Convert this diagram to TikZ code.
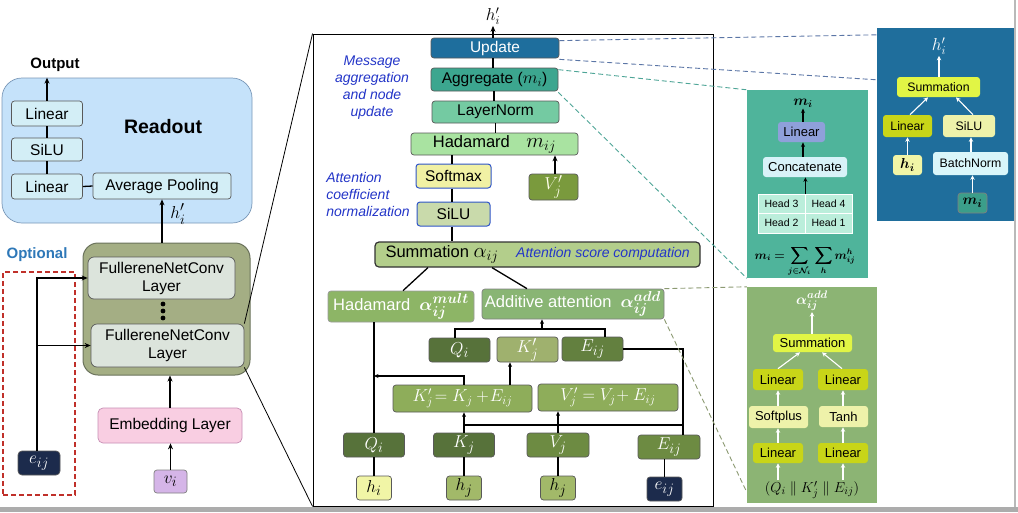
\documentclass[tikz,border=0pt]{standalone}
\usepackage{fontspec}
\setmainfont{Liberation Sans}
\usepackage{amsmath,bm}
\usetikzlibrary{calc,arrows.meta}
\newcommand{\Mx}[2][19]{{\fontsize{#1}{#1}\selectfont$#2$}}
\definecolor{roFill}{HTML}{C5E2FA}
\definecolor{roDraw}{HTML}{7A98B8}
\definecolor{roBox}{HTML}{D3EEF6}
\definecolor{gnnFill}{HTML}{A4AE84}
\definecolor{gnnDraw}{HTML}{6B735C}
\definecolor{fncFill}{HTML}{DCE4DC}
\definecolor{embFill}{HTML}{F9CEE2}
\definecolor{embDraw}{HTML}{C78FB5}
\definecolor{viFill}{HTML}{D5B5E8}
\definecolor{navy}{HTML}{1C2B4C}
\definecolor{optBlue}{HTML}{2E78B8}
\definecolor{optRed}{HTML}{C0302A}
\definecolor{updFill}{HTML}{1E6E9D}
\definecolor{aggFill}{HTML}{3CA68F}
\definecolor{lnFill}{HTML}{74CAA2}
\definecolor{hadFill}{HTML}{A9E3A1}
\definecolor{smFill}{HTML}{F1F1A4}
\definecolor{siluFill}{HTML}{C9DAAB}
\definecolor{bdBlue}{HTML}{2F55C8}
\definecolor{vjpFill}{HTML}{7A9A3D}
\definecolor{sumFill}{HTML}{B3CE8B}
\definecolor{multFill}{HTML}{8DB566}
\definecolor{addFill}{HTML}{89B574}
\definecolor{dkOlive}{HTML}{57723A}
\definecolor{ltOlive}{HTML}{9FB16E}
\definecolor{mdOlive}{HTML}{63803F}
\definecolor{kvFill}{HTML}{8EAD5A}
\definecolor{vlFill}{HTML}{6D8B42}
\definecolor{hiFill}{HTML}{F1F5A6}
\definecolor{hjFill}{HTML}{A2B969}
\definecolor{labBlue}{HTML}{2335C8}
\definecolor{tealPanel}{HTML}{4FB49B}
\definecolor{linLav}{HTML}{8FA0DA}
\definecolor{catFill}{HTML}{D8F2F8}
\definecolor{headFill}{HTML}{BBEEDB}
\definecolor{updPanel}{HTML}{1F6E9C}
\definecolor{ygSum}{HTML}{E1F545}
\definecolor{ygLin}{HTML}{C8D518}
\definecolor{ygPale}{HTML}{EEF2AA}
\definecolor{bnFill}{HTML}{D9F6FA}
\definecolor{miFill}{HTML}{3B9E8A}
\definecolor{grPanel}{HTML}{8CB474}
\definecolor{dashBlue}{HTML}{5B76A6}
\definecolor{dashTeal}{HTML}{4EA597}
\definecolor{dashOlive}{HTML}{8C9A72}
\begin{document}
\begin{tikzpicture}[x=1pt,y=-1pt,
  box/.style={draw=black!65, line width=0.7pt, rounded corners=3pt, inner sep=0pt, align=center},
  fbig/.style={font=\fontsize{15.5}{18}\selectfont},
  fmath/.style={font=\fontsize{19}{20}\selectfont},
  fmid/.style={font=\fontsize{16.5}{19}\selectfont},
  fsm/.style={font=\fontsize{13}{15}\selectfont},
  fxs/.style={font=\fontsize{12.3}{14}\selectfont},
  ln/.style={line width=1.3pt},
  arr/.style={-{Stealth[length=6pt,width=5pt]}, line width=1.3pt},
  sarr/.style={-{Stealth[length=4.5pt,width=4pt]}, line width=1.1pt},
  warr/.style={-{Stealth[length=4.5pt,width=4.5pt]}, line width=1.1pt, draw=white},
  bluelab/.style={text=labBlue, font=\itshape\fontsize{14}{17}\selectfont},
  dsh/.style={dashed, dash pattern=on 5pt off 3pt, line width=0.9pt},
  panel/.style={inner sep=0pt, draw=none}
]
\useasboundingbox (0,0) rectangle (1018,512);
\fill[white] (0,0) rectangle (1018,512);

% ---------------- Left part ----------------
\node[box, rounded corners=20pt, fill=roFill, draw=roDraw, minimum width=250, minimum height=145] (readout) at (127,150.5) {};
\node[font=\bfseries\fontsize{19.5}{22}\selectfont] (rolab) at (163,127) {Readout};
\node[font=\bfseries\fontsize{15}{18}\selectfont] (outlab) at (55,65) {Output};
\node[box, fbig, fill=roBox, minimum width=71, minimum height=25] (lin1) at (47,113.5) {Linear};
\node[box, fbig, fill=roBox, minimum width=71, minimum height=23] (silu1) at (47,149.5) {SiLU};
\node[box, fbig, fill=roBox, minimum width=71, minimum height=25] (lin2) at (47,186.5) {Linear};
\node[box, fbig, fill=roBox, minimum width=138, minimum height=26] (avgpool) at (162,186) {Average Pooling};
\draw[arr] (lin1.north) -- (lin1.north |- readout.north);
\draw[ln] (lin1.south) -- (silu1.north);
\draw[ln] (silu1.south) -- (lin2.north);
\draw[ln] (lin2.east) -- (avgpool.west);

\node[box, rounded corners=15pt, fill=gnnFill, draw=gnnDraw, line width=1pt, minimum width=167, minimum height=132] (gnn) at (166.5,309) {};
\node[box, fbig, fill=fncFill, rounded corners=6pt, minimum width=147, minimum height=42] (fnc1) at (161.5,278) {FullereneNetConv\\Layer};
\node[box, fbig, fill=fncFill, rounded corners=6pt, minimum width=153, minimum height=43] (fnc2) at (167.5,345.5) {FullereneNetConv\\Layer};
\fill (163,304) circle (2.4);
\fill (163,311) circle (2.4);
\fill (163,318) circle (2.4);
\draw[arr] (avgpool.south |- gnn.north) -- (avgpool.south);
\node[fmath] (hiplab) at (178,214) {$h_i'$};

\node[box, fbig, fill=embFill, draw=embDraw, rounded corners=5pt, minimum width=144, minimum height=35] (embed) at (170,425.5) {Embedding Layer};
\node[box, fmath, fill=viFill, draw=gray, minimum width=33, minimum height=23] (vi) at (170.5,481.5) {$v_i$};
\draw[arr] (embed.north) -- (embed.north |- gnn.south);
\draw[arr] (vi.north) -- (vi.north |- embed.south);

\node[text=optBlue, font=\bfseries\fontsize{15}{18}\selectfont] (optlab) at (37,255) {Optional};
\node[draw=optRed, dsh, line width=1.2pt, minimum width=72, minimum height=223, inner sep=0pt] (optbox) at (39,383.5) {};
\node[box, fill=navy, text=white, rounded corners=4pt, fmath, minimum width=42, minimum height=24] (eij) at (39,463) {$e_{ij}$};
\draw[arr] (37,0 |- eij.north) |- (fnc1.west);
\draw[arr] (37,0 |- fnc2.west) -- (fnc2.west);

% ---------------- Middle frame ----------------
\node[draw=black, line width=0.9pt, minimum width=400, minimum height=472, inner sep=0pt] (big) at (513,270) {};
\draw[line width=0.8pt] (fnc2.north east) -- (big.north west);
\draw[line width=0.8pt] (fnc2.south east) -- (big.south west);

\node[font=\fontsize{18}{18}\selectfont, inner sep=1pt] (hout) at (493,16) {$h_i'$};
\node[box, fbig, fill=updFill, text=white, minimum width=128, minimum height=20] (update) at (495,48) {Update};
\node[box, fbig, fill=aggFill, minimum width=127, minimum height=23] (agg) at (494.5,79.5) {Aggregate (\Mx[18]{m_i})};
\node[box, fbig, fill=lnFill, minimum width=127, minimum height=22] (lnorm) at (495.5,112) {LayerNorm};
\node[box, fmid, fill=hadFill, minimum width=167, minimum height=22] (hadm) at (494.5,144) {Hadamard\quad\Mx[20]{m_{ij}}};
\node[box, fbig, fill=smFill, draw=bdBlue, line width=1pt, minimum width=75, minimum height=24] (softmax) at (453.5,176) {Softmax};
\node[box, fbig, fill=siluFill, draw=bdBlue, line width=1pt, minimum width=73, minimum height=24] (silu) at (453.5,214) {SiLU};
\node[box, fmath, fill=vjpFill, text=white!92!yellow, minimum width=49, minimum height=26] (vjp) at (553.5,187) {$V_j'$};
\draw[arr] (update.north -| hout.south) -- (hout.south);
\draw[ln] (update.south -| 493,0) -- (agg.north -| 493,0);
\draw[ln] (agg.south -| 494,0) -- (lnorm.north -| 494,0);
\draw[ln] (lnorm.south) -- (lnorm.south |- hadm.north);
\draw[ln] (452,0 |- hadm.south) -- (452,0 |- softmax.north);
\draw[ln] (452,0 |- softmax.south) -- (452,0 |- silu.north);
\draw[arr] (555,0 |- vjp.north) -- (555,0 |- hadm.south);

\node[bluelab, align=center] (lab1) at (372,88) {Message\\aggregation\\and node\\update};
\node[bluelab, align=left] (lab2) at (368,194) {Attention\\coefficient\\normalization};

\node[box, fmid, fill=sumFill, draw=black!80, line width=1.2pt, rounded corners=4pt, minimum width=325, minimum height=25] (summ) at (537.5,254.5) {};
\node[fmid] (sumtxt) at (442,254) {Summation \Mx[20]{\alpha_{ij}}};
\node[bluelab] (lab3) at (603,254) {Attention score computation};
\draw[ln] (452,0 |- silu.south) -- (452,0 |- summ.north);

\node[box, fmid, fill=multFill, text=white, draw=black!40, minimum width=146, minimum height=31] (hadmult) at (401,306.5) {Hadamard\; \Mx[19]{\bm{\alpha_{ij}^{mult}}}};
\node[box, fmid, fill=addFill, text=white, draw=black!50, minimum width=182, minimum height=30] (addatt) at (573,304) {Additive attention\; \Mx[19]{\bm{\alpha_{ij}^{add}}}};
\draw[ln] (428,0 |- summ.south) -- (403,0 |- hadmult.north);
\draw[ln] (492,0 |- summ.south) -- (527,0 |- addatt.north);

\node[box, fmath, fill=dkOlive, text=white, minimum width=61, minimum height=24] (qu) at (459.5,350) {$Q_i$};
\node[box, fmath, fill=ltOlive, text=white, minimum width=61, minimum height=25] (kpu) at (527.5,349.5) {$K_j'$};
\node[box, fmath, fill=mdOlive, text=white, minimum width=61, minimum height=24] (eu) at (592.5,349) {$E_{ij}$};
\draw[ln] (455,0 |- qu.north) -- (455,329) -- (605,329) -- (605,0 |- eu.north);
\draw[sarr] (542,329) -- (542,0 |- addatt.south);

\node[box, font=\fontsize{17.5}{19}\selectfont, fill=kvFill, text=white, minimum width=139, minimum height=27] (ksum) at (462.5,398.5) {$K_j'\!= K_j + \!E_{ij}$};
\node[box, font=\fontsize{17.5}{19}\selectfont, fill=kvFill, text=white, minimum width=140, minimum height=27] (vsum) at (608,397.5) {$V_j' = V_j\!+ E_{ij}$};
\draw[sarr] (510,0 |- ksum.north) -- (510,0 |- kpu.south);

\node[box, fmath, fill=dkOlive, text=white, minimum width=61, minimum height=24] (ql) at (374,445) {$Q_i$};
\node[box, fmath, fill=dkOlive, text=white, minimum width=61, minimum height=24] (kl) at (464,445) {$K_j$};
\node[box, fmath, fill=vlFill, text=white, minimum width=62, minimum height=24] (vl) at (558,445) {$V_j$};
\node[box, fmath, fill=vlFill, text=white, minimum width=62, minimum height=24] (el) at (669,447) {$E_{ij}$};
\node[box, fmath, fill=hiFill, minimum width=35, minimum height=24] (hi) at (374,488) {$h_i$};
\node[box, fmath, fill=hjFill, minimum width=35, minimum height=24] (hj1) at (464,488) {$h_j$};
\node[box, fmath, fill=hjFill, minimum width=35, minimum height=24] (hj2) at (558,488) {$h_j$};
\node[box, fmath, fill=navy, text=white, minimum width=35, minimum height=24] (eij2) at (664.5,489) {$e_{ij}$};

\draw[ln] (ql.north |- hadmult.south) -- (ql.north);
\draw[sarr] (464,0 |- ksum.north) |- (ql.north |- 0,376);
\draw[sarr] (kl.north) -- (kl.north |- ksum.south);
\draw[sarr] (vl.north) -- (vl.north |- vsum.south);
\draw[ln] (kl.north |- 0,425) -- (683,425);
\draw[ln] (eu.east) -- (683,0 |- eu.east) -- (683,0 |- el.north);
\draw[ln] (hi.north) -- (ql.south);
\draw[ln] (hj1.north) -- (kl.south);
\draw[ln] (hj2.north) -- (vl.south);
\draw[ln] (eij2.north) -- (eij2.north |- el.south);

% ---------------- Aggregate detail panel ----------------
\node[panel, fill=tealPanel, minimum width=121, minimum height=188] (aggpanel) at (807.5,184) {};
\node[font=\fontsize{14}{15}\selectfont, inner sep=1pt] (milab) at (803,103) {$\bm{m_i}$};
\node[box, fsm, fill=linLav, draw=none, minimum width=47, minimum height=20] (alin) at (801.5,132) {Linear};
\node[box, fsm, fill=catFill, draw=none, minimum width=84, minimum height=20] (concat) at (805,167) {Concatenate};
\node[inner sep=0, fill=headFill, draw=white, line width=0.8pt, minimum width=47, minimum height=19.5, font=\fontsize{10.5}{12}\selectfont] (h3) at (781.5,203.7) {Head 3};
\node[inner sep=0, fill=headFill, draw=white, line width=0.8pt, minimum width=47, minimum height=19.5, font=\fontsize{10.5}{12}\selectfont] (h4) at (828.5,203.7) {Head 4};
\node[inner sep=0, fill=headFill, draw=white, line width=0.8pt, minimum width=47, minimum height=19.5, font=\fontsize{10.5}{12}\selectfont] (h2) at (781.5,223.2) {Head 2};
\node[inner sep=0, fill=headFill, draw=white, line width=0.8pt, minimum width=47, minimum height=19.5, font=\fontsize{10.5}{12}\selectfont] (h1) at (828.5,223.2) {Head 1};
\node[font=\fontsize{11.5}{12}\selectfont, inner sep=0pt] (aggform) at (805,261) {$\displaystyle\bm{m_i = \sum_{j\in\mathcal{N}_i}\,\sum_{h} m_{ij}^{h}}$};
\draw[sarr] (alin.north -| milab.south) -- (milab.south);
\draw[sarr] (concat.north -| 803,0) -- (alin.south -| 803,0);
\draw[sarr] (h3.north east) -- (concat.south -| h3.north east);

% ---------------- Update detail panel ----------------
\node[panel, fill=updPanel, minimum width=137, minimum height=193] (updpanel) at (945.5,124.5) {};
\node[text=white, font=\fontsize{17}{18}\selectfont, inner sep=1pt] (uhout) at (939,46) {$h_i'$};
\node[box, fxs, fill=ygSum, draw=none, minimum width=83, minimum height=20] (usum) at (938.5,87) {Summation};
\node[box, fxs, fill=ygLin, draw=none, minimum width=49, minimum height=22] (ulin) at (907.5,126) {Linear};
\node[box, fxs, fill=ygPale, draw=none, minimum width=52, minimum height=22] (usilu) at (969,126) {SiLU};
\node[box, font=\fontsize{15}{16}\selectfont, fill=hiFill, draw=none, minimum width=29, minimum height=20] (uhi) at (907.5,165) {$\bm{h_i}$};
\node[box, fxs, fill=bnFill, draw=none, minimum width=75, minimum height=23] (ubn) at (970.5,163.5) {BatchNorm};
\node[box, font=\fontsize{15}{16}\selectfont, fill=miFill, draw=black!50, minimum width=29, minimum height=20] (umi) at (972.5,203) {$\bm{m_i}$};
\draw[warr] (usum.north -| uhout.south) -- (uhout.south);
\draw[warr] (910,0 |- ulin.north) -- (928,0 |- usum.south);
\draw[warr] (973,0 |- usilu.north) -- (956,0 |- usum.south);
\draw[warr] (uhi.north) -- (uhi.north |- ulin.south);
\draw[warr] (971,0 |- ubn.north) -- (971,0 |- usilu.south);
\draw[warr] (umi.north) -- (umi.north |- ubn.south);

% ---------------- Additive detail panel ----------------
\node[panel, fill=grPanel, minimum width=130, minimum height=216] (addpanel) at (812,395) {};
\node[text=white, font=\fontsize{15}{16}\selectfont, inner sep=1pt] (galpha) at (812,301) {$\bm{\alpha_{ij}^{add}}$};
\node[box, fsm, fill=ygSum, draw=none, minimum width=79, minimum height=18] (gsum) at (812.5,343) {Summation};
\node[box, fsm, fill=ygLin, draw=none, minimum width=50, minimum height=21] (gl1) at (778,379.5) {Linear};
\node[box, fsm, fill=ygLin, draw=none, minimum width=50, minimum height=21] (gr1) at (843,379.5) {Linear};
\node[box, fsm, fill=ygPale, draw=none, minimum width=59, minimum height=22] (gsp) at (778.5,417) {Softplus};
\node[box, fsm, fill=ygPale, draw=none, minimum width=49, minimum height=21] (gtanh) at (843.5,416.5) {Tanh};
\node[box, fsm, fill=ygLin, draw=none, minimum width=50, minimum height=20] (gl2) at (778,453) {Linear};
\node[box, fsm, fill=ygLin, draw=none, minimum width=50, minimum height=20] (gr2) at (843,453) {Linear};
\node[font=\fontsize{15}{16}\selectfont, inner sep=1pt] (ginput) at (812,490) {$(Q_i \parallel K_j' \parallel E_{ij})$};
\draw[warr] (gsum.north -| galpha.south) -- (galpha.south);
\draw[warr] (778,0 |- gl1.north) -- (800,0 |- gsum.south);
\draw[warr] (842,0 |- gr1.north) -- (822,0 |- gsum.south);
\draw[warr] (gsp.north -| gl1.south) -- (gl1.south);
\draw[warr] (gtanh.north -| gr1.south) -- (gr1.south);
\draw[warr] (gl2.north) -- (gl2.north |- gsp.south);
\draw[warr] (gr2.north) -- (gr2.north |- gtanh.south);
\draw[warr] (gl2.south |- ginput.north) -- (gl2.south);
\draw[warr] (gr2.south |- ginput.north) -- (gr2.south);

% ---------------- Dashed zoom connectors ----------------
\draw[dsh, dashBlue] ($(update.north east)+(0,3)$) -- ($(updpanel.north west)+(0,7)$);
\draw[dsh, dashBlue] ($(update.south east)+(0,1)$) -- ($(updpanel.north west)+(0,52)$);
\draw[dsh, dashTeal] ($(agg.north east)+(0,2)$) -- (aggpanel.north west);
\draw[dsh, dashTeal] ($(agg.south east)+(0,1)$) -- (aggpanel.south west);
\draw[dsh, dashOlive] (addatt.north east) -- (addpanel.north west);
\draw[dsh, dashOlive] (addatt.south east) -- ($(addpanel.south west)+(0,-11)$);

% ---------------- Screenshot edges ----------------
\draw[gray!55, line width=1.2pt] (1015,0) -- (1015,507);
\fill[gray!65] (0,507) rectangle (1018,512);
\end{tikzpicture}
\end{document}
